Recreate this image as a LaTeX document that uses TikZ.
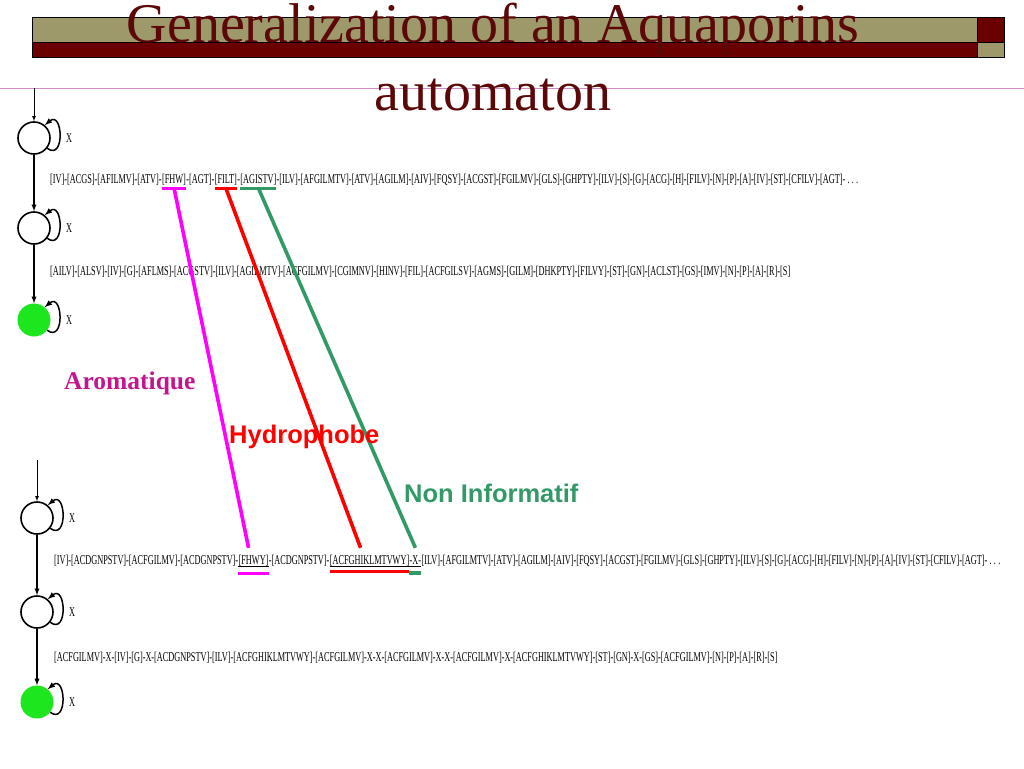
\documentclass[tikz,border=0pt]{standalone}
\usepackage{fontspec}
\setmainfont{Liberation Serif}
\newfontfamily\seqfont[FakeStretch=0.612]{Liberation Serif}
\newfontfamily\labsans{Liberation Sans}
\usetikzlibrary{positioning}

\definecolor{khaki}{RGB}{158,153,106}
\definecolor{barred}{RGB}{107,0,0}
\definecolor{titlered}{RGB}{92,8,8}
\definecolor{rulepink}{RGB}{210,140,195}
\definecolor{arom}{RGB}{195,22,140}
\definecolor{aromline}{RGB}{255,0,255}
\definecolor{hydro}{RGB}{255,0,0}
\definecolor{noninf}{RGB}{51,153,102}
\definecolor{final}{RGB}{30,230,30}

\tikzset{
  titletext/.style={inner sep=0pt,text=titlered,font=\fontsize{56}{60}\selectfont},
  state/.style={circle,draw,line width=1.6pt,minimum size=32pt,inner sep=0pt},
  accept/.style={circle,fill=final,minimum size=33pt,inner sep=0pt},
  init/.style={-latex,line width=0.8pt},
  trans/.style={-latex,line width=1.3pt},
  selfloop/.style={-latex,line width=1.5pt},
  xlab/.style={inner sep=0pt,font=\seqfont\fontsize{13.5}{14}\selectfont},
  seqpart/.style={inner sep=0pt,font=\seqfont\fontsize{13.5}{14}\selectfont,
    text height=9.5pt,text depth=2.5pt},
  markbar/.style={line width=3pt},
  link/.style={line width=3.6pt},
  classlab/.style={inner sep=0pt,font=\fontsize{25.5}{26}\selectfont\bfseries}
}

\begin{document}
\begin{tikzpicture}[x=1pt,y=-1pt]
\useasboundingbox (0,0) rectangle (1024,768);

% title bar
\fill[khaki] (32,17) rectangle (977,42);
\fill[barred] (32,42) rectangle (977,57);
\fill[barred] (977,17) rectangle (1004,42);
\fill[khaki] (977,42) rectangle (1004,57);
\draw[line width=0.8pt] (32,17) rectangle (1004,57);
\draw[line width=0.8pt] (32,42) -- (1004,42);
\draw[line width=0.8pt] (977,17) -- (977,57);
\draw[rulepink,line width=0.8pt] (0,88) -- (1024,88);
\node[titletext,anchor=base] (title) at (493,42) {Generalization of an Aquaporins};
\node[titletext,anchor=base] (subtitle) at (493,110) {automaton};

% automata
\node[state] (s1) at (34,138) {};
\node[state] (s2) at (34,228) {};
\node[accept] (s3) at (34,320) {};
\node[state] (s4) at (37,518) {};
\node[state] (s5) at (37,612) {};
\node[accept] (s6) at (37,702) {};
\coordinate (i1) at (34,88);
\coordinate (i2) at (37,460);
\draw[init] (i1) -- (s1);
\draw[trans] (s1) -- (s2);
\draw[trans] (s2) -- (s3);
\draw[init] (i2) -- (s4);
\draw[trans] (s4) -- (s5);
\draw[trans] (s5) -- (s6);
\foreach \s in {s1,s2,s3,s4,s5,s6}{
  \draw[selfloop] (\s.-38) .. controls +(18,13) and +(18,-15) .. (\s.50);
  \node[xlab] (x\s) at ([xshift=35pt]\s.center) {X};
}

% sequences
\node[seqpart,anchor=west] (q1a) at (50,180) {[IV]-[ACGS]-[AFILMV]-[ATV]-};
\node[seqpart,right=0pt of q1a] (q1fhw) {[FHW]};
\node[seqpart,right=0pt of q1fhw] (q1b) {-[AGT]-};
\node[seqpart,right=0pt of q1b] (q1filt) {[FILT]};
\node[seqpart,right=0pt of q1filt] (q1c) {-};
\node[seqpart,right=0pt of q1c] (q1agistv) {[AGISTV]};
\node[seqpart,right=0pt of q1agistv] (q1d) {-[ILV]-[AFGILMTV]-[ATV]-[AGILM]-[AIV]-[FQSY]-[ACGST]-[FGILMV]-[GLS]-[GHPTY]-[ILV]-[S]-[G]-[ACG]-[H]-[FILV]-[N]-[P]-[A]-[IV]-[ST]-[CFILV]-[AGT]-\,.\,.\,.};

\node[seqpart,anchor=west] (q2) at (50,272) {[AILV]-[ALSV]-[IV]-[G]-[AFLMS]-[ACGSTV]-[ILV]-[AGILMTV]-[ACFGILMV]-[CGIMNV]-[HINV]-[FIL]-[ACFGILSV]-[AGMS]-[GILM]-[DHKPTY]-[FILVY]-[ST]-[GN]-[ACLST]-[GS]-[IMV]-[N]-[P]-[A]-[R]-[S]};

\node[seqpart,anchor=west] (q3a) at (54,561) {[IV]-[ACDGNPSTV]-[ACFGILMV]-[ACDGNPSTV]-};
\node[seqpart,right=0pt of q3a] (q3fhwy) {[FHWY]};
\node[seqpart,right=0pt of q3fhwy] (q3b) {-[ACDGNPSTV]-};
\node[seqpart,right=0pt of q3b] (q3hyd) {[ACFGHIKLMTVWY]};
\node[seqpart,right=0pt of q3hyd] (q3x) {-X-};
\node[seqpart,right=0pt of q3x] (q3c) {[ILV]-[AFGILMTV]-[ATV]-[AGILM]-[AIV]-[FQSY]-[ACGST]-[FGILMV]-[GLS]-[GHPTY]-[ILV]-[S]-[G]-[ACG]-[H]-[FILV]-[N]-[P]-[A]-[IV]-[ST]-[CFILV]-[AGT]-\,.\,.\,.};

\node[seqpart,anchor=west] (q4) at (54,658) {[ACFGILMV]-X-[IV]-[G]-X-[ACDGNPSTV]-[ILV]-[ACFGHIKLMTVWY]-[ACFGILMV]-X-X-[ACFGILMV]-X-X-[ACFGILMV]-X-[ACFGHIKLMTVWY]-[ST]-[GN]-X-[GS]-[ACFGILMV]-[N]-[P]-[A]-[R]-[S]};

% marks under the classes
\draw[markbar,aromline] ([yshift=-2pt]q1fhw.south west) -- ([yshift=-2pt]q1fhw.south east);
\draw[markbar,hydro] ([yshift=-2pt]q1filt.south west) -- ([yshift=-2pt]q1filt.south east);
\draw[markbar,noninf] ([yshift=-2pt]q1agistv.south west) -- ([yshift=-2pt]q1agistv.south east);
\foreach \g in {q3fhwy,q3hyd,q3x}
  \draw[line width=0.5pt] ([yshift=1pt]\g.south west) -- ([yshift=1pt]\g.south east);
\draw[markbar,aromline] ([yshift=-6pt]q3fhwy.south west) -- ([yshift=-6pt]q3fhwy.south east);
\draw[markbar,hydro] ([yshift=-4.5pt]q3hyd.south west) -- ([yshift=-4.5pt]q3hyd.south east);
\draw[markbar,noninf,line width=4pt] ([yshift=-6pt]q3x.south west) -- ([yshift=-6pt]q3x.south east);

% links between the two automata
\coordinate (a1) at ([yshift=-2pt]q1fhw.south);
\coordinate (h1) at ([yshift=-2pt]q1filt.south);
\coordinate (n1) at ([yshift=-2pt]q1agistv.south);
\coordinate (a3) at ([xshift=-5pt,yshift=7pt]q3fhwy.north);
\coordinate (h3) at ([xshift=-9pt,yshift=7pt]q3hyd.north);
\coordinate (n3) at ([yshift=7pt]q3x.north);
\draw[link,aromline] (a1) -- (a3);
\draw[link,hydro] (h1) -- (h3);
\draw[link,noninf] (n1) -- (n3);

\node[classlab,text=arom,anchor=west] (arom) at (64,383) {Aromatique};
\node[classlab,text=hydro,anchor=west] (hydro) at (229,437) {\labsans Hydrophobe};
\node[classlab,text=noninf,anchor=west] (noninf) at (404,493) {\labsans Non Informatif};
\end{tikzpicture}
\end{document}
